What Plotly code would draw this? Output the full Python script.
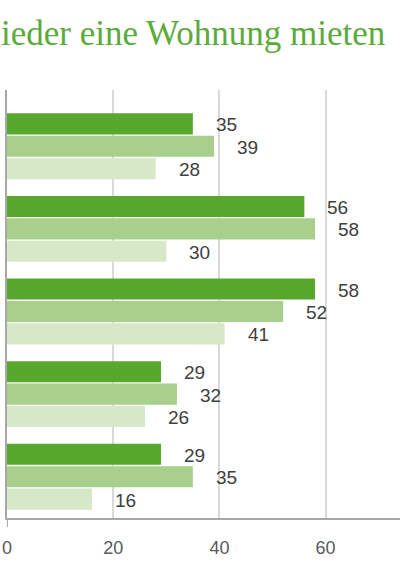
import plotly.graph_objects as go

# Data (groups top to bottom; three series each)
groups = [0, 1, 2, 3, 4]
series_names = ["Serie 1", "Serie 2", "Serie 3"]
values_s1 = [35, 56, 58, 29, 29]
values_s2 = [39, 58, 52, 32, 35]
values_s3 = [28, 30, 41, 26, 16]
title_text = "ieder eine Wohnung mieten"
x_ticks = [0, 20, 40, 60, 80]

colors = ["#57A82D", "#A8CF8C", "#D7E8C9"]
all_values = [values_s1, values_s2, values_s3]

W, H = 400, 566
ML, MT, MB = 7, 90, 48
px_per_unit = 5.31
bargap = 0.186
n_series = 3

fig = go.Figure()
for name, vals, col in zip(series_names, all_values, colors):
    fig.add_trace(go.Bar(
        x=vals, y=groups, orientation="h", name=name,
        marker=dict(color=col, line=dict(width=0)),
        hoverinfo="x",
    ))

# value labels to the right of each bar
slot = (1 - bargap) / n_series
for i, vals in enumerate(all_values):
    for g, v in zip(groups, vals):
        fig.add_annotation(
            x=v, y=g + (i - 1) * slot, xref="x", yref="y",
            text=str(v), showarrow=False, xanchor="left", yanchor="middle",
            xshift=21, yshift=-1,
            font=dict(family="Liberation Sans", size=19, color="#404040"),
        )

plot_h = H - MT - MB
fig.add_annotation(
    x=0, y=(plot_h + MT - 34) / plot_h, xref="paper", yref="paper",
    text=title_text, showarrow=False, xanchor="left", yanchor="middle",
    xshift=-ML - 1,
    font=dict(family="Liberation Serif", size=35, color="#5BAA3C"),
)

# small downward extension of the vertical axis below the category axis
fig.add_shape(type="line", xref="x", yref="paper", x0=0, x1=0, y0=-9 / plot_h, y1=0,
              line=dict(color="#A8A8A8", width=2))

x_max = (W - ML) / px_per_unit
fig.update_layout(
    width=W, height=H,
    margin=dict(l=ML, r=0, t=MT, b=MB, autoexpand=False),
    paper_bgcolor="white", plot_bgcolor="white",
    barmode="group", bargap=bargap, bargroupgap=0.06,
    showlegend=False,
    xaxis=dict(
        range=[0, x_max], tickvals=x_ticks, showgrid=True,
        gridcolor="#D9D9D9", gridwidth=1.5, zeroline=False,
        showline=True, linecolor="#A8A8A8", linewidth=2,
        ticks="", ticklabelstandoff=12,
        tickfont=dict(family="Liberation Sans", size=18, color="#595959"),
    ),
    yaxis=dict(
        range=[4.5, -0.5 - 15 / 82.7], showticklabels=False, showgrid=False,
        zeroline=False, showline=True, linecolor="#A8A8A8", linewidth=2, ticks="",
    ),
)

fig.write_html(
    "out.html",
    config={"displayModeBar": False},
    post_script="document.body.style.margin='0';document.body.style.overflow='hidden';",
)
